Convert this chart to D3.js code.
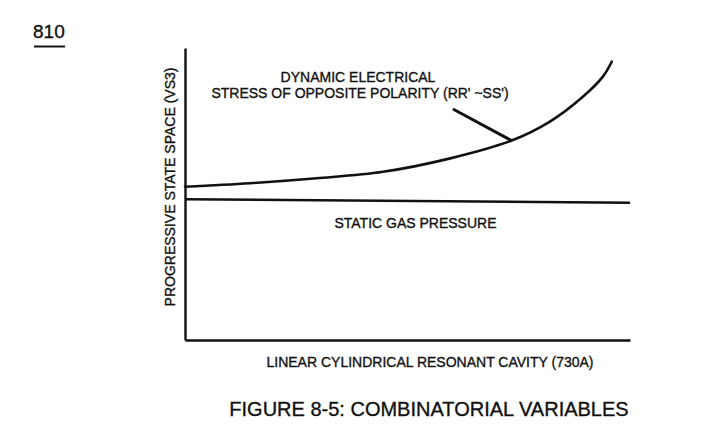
<!DOCTYPE html>
<html>
<head>
<meta charset="utf-8">
<script src="https://cdn.jsdelivr.net/npm/d3@7"></script>
<style>
  html, body { margin: 0; padding: 0; background: #fff; }
  svg { display: block; }
  text { font-family: "Liberation Sans", Arial, Helvetica, sans-serif; fill: #111; stroke: #111; stroke-width: 0.35px; }
</style>
</head>
<body>
<svg id="chart" width="703" height="430"></svg>
<script>
// ---- data (arbitrary units, 0..100 on both axes) ----
const dynamicX = [0, 14.6, 29.6, 44.5, 59.6, 73.4, 82.0, 89.4, 93.9, 95.9];
const dynamicY = [52.5, 53.7, 55.4, 57.6, 62.2, 68.3, 74.8, 83.3, 90.2, 95.3];
const staticX = [0, 100];
const staticY = [48.2, 47.0];
const leaderX = [60.2, 73.5];
const leaderY = [79.1, 68.2];

const figureNumber = "810";
const dynamicLabel = ["DYNAMIC ELECTRICAL", "STRESS OF OPPOSITE POLARITY (RR' ~SS')"];
const staticLabel = "STATIC GAS PRESSURE";
const xAxisLabel = "LINEAR CYLINDRICAL RESONANT CAVITY (730A)";
const yAxisLabel = "PROGRESSIVE STATE SPACE (VS3)";
const caption = "FIGURE 8-5: COMBINATORIAL VARIABLES";

// ---- layout ----
const svg = d3.select("#chart");
const x = d3.scaleLinear().domain([0, 100]).range([185, 630]);
const y = d3.scaleLinear().domain([0, 100]).range([340, 48]);

const ink = "#111";

// axes (no ticks)
svg.append("g")
  .attr("transform", `translate(0,${y(0)})`)
  .call(d3.axisBottom(x).ticks(0).tickSize(0).tickSizeOuter(0))
  .call(g => g.select(".domain").attr("stroke", ink).attr("stroke-width", 2.6));
svg.append("g")
  .attr("transform", `translate(${x(0)},0)`)
  .call(d3.axisLeft(y).ticks(0).tickSize(0).tickSizeOuter(0))
  .call(g => g.select(".domain").attr("stroke", ink).attr("stroke-width", 2.4));

const toPts = (xs, ys) => xs.map((v, i) => [v, ys[i]]);
const line = d3.line().x(d => x(d[0])).y(d => y(d[1]));

// static line
svg.append("path")
  .attr("d", line(toPts(staticX, staticY)))
  .attr("fill", "none").attr("stroke", ink).attr("stroke-width", 2.6);

// dynamic curve
svg.append("path")
  .attr("d", d3.line().x(d => x(d[0])).y(d => y(d[1])).curve(d3.curveCatmullRom.alpha(0.5))(toPts(dynamicX, dynamicY)))
  .attr("fill", "none").attr("stroke", ink).attr("stroke-width", 2.6)
  .attr("stroke-linecap", "round");

// leader line
svg.append("path")
  .attr("d", line(toPts(leaderX, leaderY)))
  .attr("fill", "none").attr("stroke", ink).attr("stroke-width", 3);

// figure number
svg.append("text").attr("x", 33).attr("y", 38)
  .attr("font-size", 19).text(figureNumber);
svg.append("line").attr("x1", 34).attr("x2", 65).attr("y1", 46.5).attr("y2", 46.5)
  .attr("stroke", ink).attr("stroke-width", 2);

// dynamic label
svg.append("text").attr("x", 358).attr("y", 82).attr("text-anchor", "middle")
  .attr("font-size", 14).text(dynamicLabel[0]);
svg.append("text").attr("x", 360).attr("y", 97.5).attr("text-anchor", "middle")
  .attr("font-size", 14).text(dynamicLabel[1]);

// static label
svg.append("text").attr("x", 415.5).attr("y", 227.7).attr("text-anchor", "middle")
  .attr("font-size", 14).text(staticLabel);

// axis labels
svg.append("text").attr("x", 430).attr("y", 367).attr("text-anchor", "middle")
  .attr("font-size", 14).text(xAxisLabel);
svg.append("text")
  .attr("transform", "translate(175,187) rotate(-90)")
  .attr("text-anchor", "middle")
  .attr("font-size", 14).text(yAxisLabel);

// caption
svg.append("text").attr("x", 429).attr("y", 416).attr("text-anchor", "middle")
  .attr("font-size", 20).text(caption);
</script>
</body>
</html>
